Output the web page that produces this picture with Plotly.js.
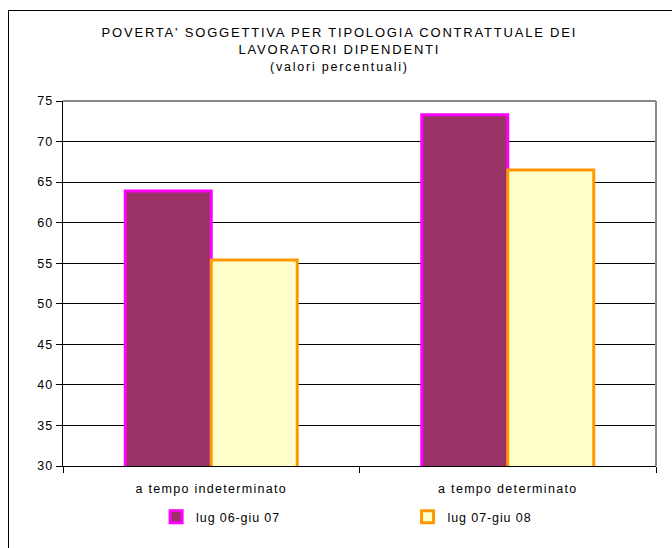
<!DOCTYPE html>
<html><head><meta charset="utf-8">
<script src="https://cdn.plot.ly/plotly-3.0.1.min.js"></script>
<style>
body{margin:0;padding:0;background:#fff;}
#wrap{position:relative;width:672px;height:548px;overflow:hidden;}
#chart{position:absolute;left:0;top:0;width:672px;height:548px;}
text{letter-spacing:0.9px;}
#chart .xtick text{letter-spacing:1.3px;}
#chart .gtitle{letter-spacing:1.8px;}
#frame{position:absolute;left:8px;top:10px;width:700px;height:600px;border-left:1px solid #000;border-top:1px solid #000;pointer-events:none;}
</style></head>
<body>
<div id="wrap"><div id="chart"></div><div id="frame"></div></div>
<script>
const categories = ["a tempo indeterminato", "a tempo determinato"];
const seriesNames = ["lug 06-giu 07", "lug 07-giu 08"];
const values2006 = [63.9, 73.3];
const values2007 = [55.4, 66.5];
const yTicks = [30, 35, 40, 45, 50, 55, 60, 65, 70, 75];

const fam = "Liberation Sans, Arial, sans-serif";
const font = {family: fam, size: 12.5, color: "#000"};

const traces = [
  {type: "bar", name: seriesNames[0], x: categories, y: values2006, legend: "legend",
   marker: {color: "#993366", line: {color: "#FF00FF", width: 3}}},
  {type: "bar", name: seriesNames[1], x: categories, y: values2007, legend: "legend2",
   marker: {color: "#FFFFCC", line: {color: "#FF9900", width: 3}}}
];

const legendBase = {orientation: "h", yanchor: "middle", y: -0.14, xanchor: "left",
  font: {family: fam, size: 12.5, color: "#000"}, itemwidth: 30, bgcolor: "rgba(0,0,0,0)"};

const layout = {
  width: 672, height: 548,
  margin: {l: 63, r: 16, t: 101, b: 82},
  paper_bgcolor: "#fff", plot_bgcolor: "#fff",
  font: font,
  barmode: "group", bargap: 0.42, bargroupgap: 0,
  showlegend: true,
  title: {text: "POVERTA' SOGGETTIVA PER TIPOLOGIA CONTRATTUALE DEI<br>LAVORATORI DIPENDENTI<br><span style='font-size:12.5px'>(valori percentuali)</span>",
          font: {family: fam, size: 13, color: "#000"}, x: 0.505, xanchor: "center", y: 0.9325, yanchor: "top"},
  xaxis: {type: "category", showline: true, linecolor: "#000", linewidth: 1,
          ticks: "outside", tickson: "boundaries", ticklen: 6, tickcolor: "#000",
          ticklabelstandoff: 11,
          showgrid: false, tickfont: {family: fam, size: 12.5}},
  yaxis: {range: [30, 75], tickvals: yTicks, ticks: "outside", ticklen: 6, tickcolor: "#000",
          showline: true, linecolor: "#000", linewidth: 1.5,
          showgrid: true, gridcolor: "#000", gridwidth: 1, zeroline: false,
          tickfont: {family: fam, size: 12.5}},
  legend: Object.assign({}, legendBase, {x: 0.157}),
  legend2: Object.assign({}, legendBase, {x: 0.581}),
  shapes: [
    {type: "line", xref: "paper", yref: "paper", x0: 0, x1: 1, y0: 1, y1: 1, line: {color: "#888", width: 2}},
    {type: "line", xref: "paper", yref: "paper", x0: 1, x1: 1, y0: 0, y1: 1, line: {color: "#888", width: 2}}
  ]
};

Plotly.newPlot("chart", traces, layout, {displayModeBar: false, staticPlot: true});
</script>
</body></html>
